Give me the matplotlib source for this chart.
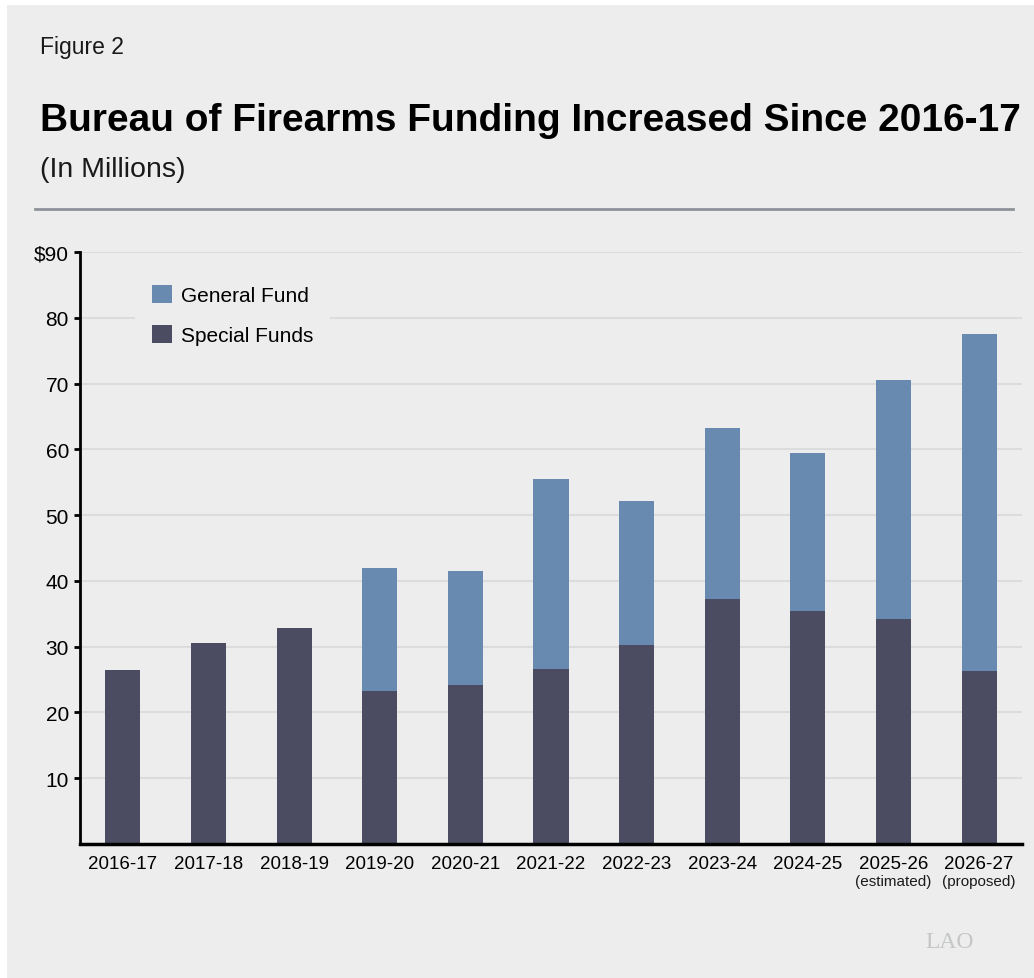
import matplotlib
matplotlib.use('Agg')
import matplotlib.pyplot as plt
from matplotlib.patches import Rectangle, Patch
from matplotlib.transforms import blended_transform_factory

# 数据 (百万美元)
years = ['2016-17', '2017-18', '2018-19', '2019-20', '2020-21', '2021-22',
         '2022-23', '2023-24', '2024-25', '2025-26', '2026-27']
year_notes = {'2025-26': '(estimated)', '2026-27': '(proposed)'}
special_funds = [26.5, 30.5, 32.8, 23.3, 24.2, 26.6, 30.2, 37.3, 35.4, 34.2, 26.3]
general_fund = [0.0, 0.0, 0.0, 18.6, 17.3, 28.9, 21.9, 25.9, 24.0, 36.3, 51.3]
y_ticks = [10, 20, 30, 40, 50, 60, 70, 80, 90]
y_tick_labels = ['10', '20', '30', '40', '50', '60', '70', '80', '$90']

BG = '#ecedec'
C_GF = '#6889b0'
C_SF = '#4b4c62'

plt.rcParams['font.family'] = ['Liberation Sans', 'DejaVu Sans']

W, H = 1034, 979
fig = plt.figure(figsize=(W / 100, H / 100), dpi=100, facecolor='white')
fig.patches.append(Rectangle((7 / W, 0), 1 - 7 / W, 1 - 6 / H, transform=fig.transFigure,
                             facecolor=BG, edgecolor='none', zorder=-10))

# 标题区
fig.text(40 / W, 1 - 54 / H, 'Figure 2', fontsize=16.5, va='baseline', color='#1a1a1a')
fig.text(40 / W, 1 - 131 / H, 'Bureau of Firearms Funding Increased Since 2016-17',
         fontsize=28, fontweight='bold', va='baseline', color='black')
fig.text(40 / W, 1 - 177 / H, '(In Millions)', fontsize=20.5, va='baseline', color='#1a1a1a')
fig.add_artist(plt.Line2D([35 / W, 1013 / W], [1 - 210 / H, 1 - 210 / H],
                          transform=fig.transFigure, color='#8e9298', lw=2))

ax = fig.add_axes([80 / W, 1 - 845 / H, (1022 - 80) / W, (845 - 253) / H])
ax.set_facecolor('none')

x = list(range(len(years)))
ax.bar(x, special_funds, width=0.41, color=C_SF, zorder=3)
ax.bar(x, general_fund, width=0.41, bottom=special_funds, color=C_GF, zorder=3)

ax.set_xlim(-0.5, len(years) - 0.5)
ax.set_ylim(0, 90)
ax.set_yticks(y_ticks)
ax.set_yticklabels(y_tick_labels)
ax.set_xticks(x)
ax.set_xticklabels(years)
ax.yaxis.grid(True, color='#dbdcdb', lw=1.5, zorder=0)
ax.set_axisbelow(True)

for s in ['top', 'right']:
    ax.spines[s].set_visible(False)
ax.spines['left'].set_linewidth(2)
ax.spines['bottom'].set_linewidth(2.5)
ax.spines['left'].set_zorder(5)
ax.spines['bottom'].set_zorder(5)
ax.tick_params(axis='y', length=4, width=2, pad=4, labelsize=15, colors='black')
ax.tick_params(axis='x', length=0, pad=8, labelsize=13.5)

# 年份注释
trans = blended_transform_factory(ax.transData, ax.transAxes)
for i, yr in enumerate(years):
    if yr in year_notes:
        ax.text(i, -0.063, year_notes[yr], transform=trans, ha='center', va='center',
                fontsize=11, color='#1a1a1a')

handles = [Patch(facecolor=C_GF, edgecolor='none', label='General Fund'),
           Patch(facecolor=C_SF, edgecolor='none', label='Special Funds')]
leg = ax.legend(handles=handles, loc='upper left', bbox_to_anchor=(135 / W, 1 - 269 / H),
                bbox_transform=fig.transFigure, borderaxespad=0, borderpad=0.8,
                fontsize=15, handlelength=0.96, handleheight=0.96, handletextpad=0.45,
                labelspacing=0.95, frameon=True, fancybox=False)
leg.get_frame().set_facecolor(BG)
leg.get_frame().set_edgecolor('none')
leg.get_frame().set_alpha(1)

# LAO 标志
fig.text(925 / W, 1 - 943 / H, 'LAO', family=['Liberation Serif', 'DejaVu Serif'],
         fontsize=17, color='#c5c6c7', va='center', ha='left')

fig.savefig('out.png', dpi=100, facecolor='white')
